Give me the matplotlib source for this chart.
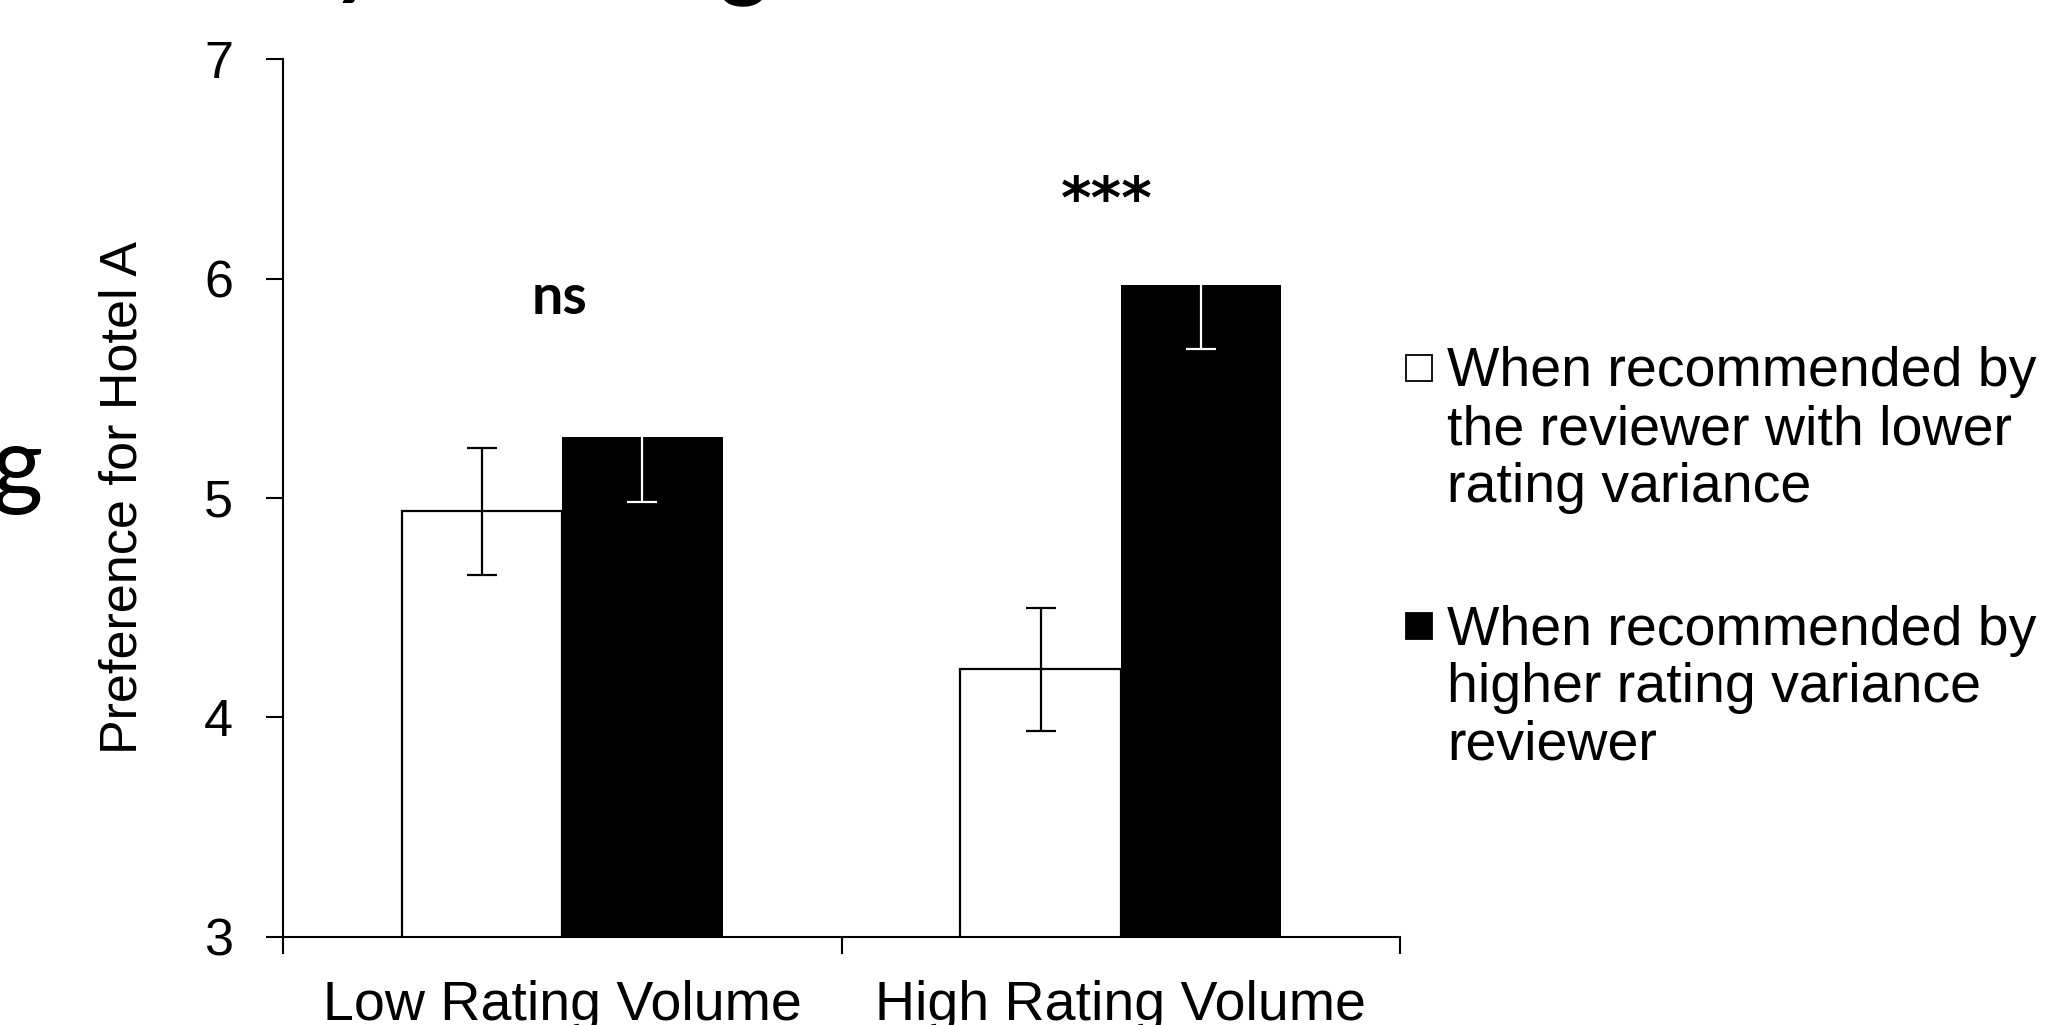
import numpy as np
import matplotlib.pyplot as plt
from matplotlib.lines import Line2D

# data
categories = ['Low Rating Volume', 'High Rating Volume']
low_var_means = [4.94, 4.22]
low_var_err = [0.29, 0.28]
high_var_means = [5.28, 5.97]
high_var_err = [0.30, 0.29]
sig_labels = ['ns', '***']
sig_heights = [5.91, 6.35]
legend_labels = ['When recommended by\nthe reviewer with lower\nrating variance',
                 'When recommended by\nhigher rating variance\nreviewer']

plt.rcParams['font.family'] = ['Liberation Sans', 'DejaVu Sans']

fig = plt.figure(figsize=(20.61, 10.25), dpi=100)
ax = fig.add_axes([0.1373, 0.0859, 0.5420, 0.8565])

x = np.arange(len(categories))
w = 0.287
ax.bar(x - w / 2, low_var_means, w, color='white', edgecolor='black', linewidth=1.6, zorder=2)
ax.bar(x + w / 2, high_var_means, w, color='black', edgecolor='black', linewidth=0, zorder=2)
ax.errorbar(x - w / 2, low_var_means, yerr=low_var_err, fmt='none', ecolor='black',
            elinewidth=1.6, capsize=11, capthick=1.6, zorder=3)
ax.errorbar(x + w / 2, high_var_means, yerr=high_var_err, fmt='none', ecolor='white',
            elinewidth=1.6, capsize=11, capthick=1.6, zorder=3)

# significance marks
ax.text(0 - 0.005, sig_heights[0], sig_labels[0], ha='center', va='center', fontsize=40,
        fontweight='bold', family=['Lato', 'DejaVu Sans'])
ax.text(1 - 0.025, sig_heights[1], sig_labels[1], ha='center', va='center', fontsize=42,
        fontweight='bold', family=['DejaVu Sans'])

ax.set_ylim(3, 7)
ax.set_xlim(-0.5, 1.5)
ax.set_yticks([3, 4, 5, 6, 7])
ax.set_xticks(x)
ax.set_xticklabels(categories)
ax.set_xticks([-0.5, 0.5, 1.5], minor=True)
ax.tick_params(axis='x', which='major', length=0, pad=31, labelsize=40)
ax.tick_params(axis='x', which='minor', length=12, width=1.5, direction='out')
ax.tick_params(axis='y', length=12, width=1.5, pad=24, labelsize=37.5)
ax.spines['top'].set_visible(False)
ax.spines['right'].set_visible(False)
ax.spines['left'].set_linewidth(1.5)
ax.spines['bottom'].set_linewidth(1.5)
ax.set_ylabel('Preference for Hotel A', fontsize=37.5)
ax.yaxis.set_label_coords(-0.121, 0.50)

# legend built by hand so the swatch sits on the first line
fills = ['white', 'black']
ys = [0.641, 0.389]
for fc, lab, yy in zip(fills, legend_labels, ys):
    fig.add_artist(Line2D([0.6885], [yy], marker='s', markersize=19, markerfacecolor=fc,
                          markeredgecolor='black', markeredgewidth=1.3, linestyle='none',
                          transform=fig.transFigure))
    fig.text(0.7020, yy + 0.021, lab, fontsize=40, va='top', ha='left', linespacing=1.14)

# fragments of cropped text at the edges
fig.text(0.161, 1.013, 'y', fontsize=66, fontweight='bold', va='baseline', family=['Lato', 'DejaVu Sans'])
fig.text(0.349, 1.010, 'g', fontsize=66, fontweight='bold', va='baseline', family=['Lato', 'DejaVu Sans'])
fig.text(0.021, 0.515, 'g', fontsize=71, va='baseline', ha='right', family=['Lato', 'DejaVu Sans'])

fig.savefig('out.png', dpi=100)
